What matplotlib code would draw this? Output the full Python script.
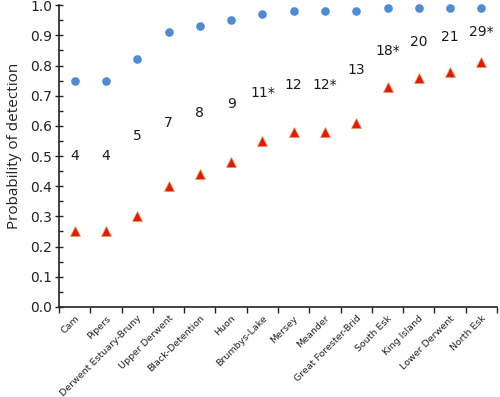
import matplotlib
matplotlib.use("Agg")
import matplotlib.pyplot as plt
import numpy as np
from matplotlib.ticker import MultipleLocator, FixedLocator, NullFormatter

categories = ["Cam", "Pipers", "Derwent Estuary-Bruny", "Upper Derwent",
              "Black-Detention", "Huon", "Brumbys-Lake", "Mersey", "Meander",
              "Great Forester-Brid", "South Esk", "King Island",
              "Lower Derwent", "North Esk"]
circle_vals = [0.75, 0.75, 0.82, 0.91, 0.93, 0.95, 0.97, 0.98, 0.98, 0.98,
               0.99, 0.99, 0.99, 0.99]
triangle_vals = [0.25, 0.25, 0.30, 0.40, 0.44, 0.48, 0.55, 0.58, 0.58, 0.61,
                 0.73, 0.76, 0.78, 0.81]
count_labels = ["4", "4", "5", "7", "8", "9", "11*", "12", "12*", "13",
                "18*", "20", "21", "29*"]
count_label_y = [0.50, 0.50, 0.565, 0.61, 0.643, 0.674, 0.708, 0.737, 0.737,
                 0.785, 0.848, 0.878, 0.895, 0.912]

plt.rcParams['font.family'] = ['DejaVu Sans']
fig = plt.figure(figsize=(5.0, 3.97), dpi=100)
ax = fig.add_axes([0.118, 0.227, 0.876, 0.760])

x = np.arange(len(categories))
ax.plot(x, circle_vals, 'o', color='#4F8BD0', markersize=6.2, markeredgewidth=0,
        zorder=3, clip_on=False)
ax.plot(x, triangle_vals, '^', color='#E8170E', markersize=6.5,
        markeredgecolor='#E0A050', markeredgewidth=0.5, zorder=3, clip_on=False)
for xi, lab, yy in zip(x, count_labels, count_label_y):
    ax.text(xi, yy, lab, ha='center', va='center', fontsize=10, color='#1a1a1a')

ax.set_xlim(-0.5, len(categories) - 0.5)
ax.set_ylim(0, 1.0)
ax.yaxis.set_major_locator(MultipleLocator(0.1))
ax.yaxis.set_minor_locator(MultipleLocator(0.05))
ax.yaxis.set_major_formatter(matplotlib.ticker.FormatStrFormatter('%.1f'))
ax.tick_params(axis='y', which='major', direction='inout', length=6, width=1,
               labelsize=10, colors='#222222', pad=2)
ax.tick_params(axis='y', which='minor', direction='in', length=3, width=1,
               colors='#222222')

ax.xaxis.set_major_locator(FixedLocator(np.arange(-0.5, len(categories), 1.0)))
ax.xaxis.set_major_formatter(NullFormatter())
ax.xaxis.set_minor_locator(FixedLocator(x))
ax.set_xticks(x, minor=True)
ax.set_xticklabels(categories, minor=True, rotation=45, ha='right',
                   rotation_mode='anchor', fontsize=6.8)
ax.tick_params(axis='x', which='major', direction='out', length=4, width=1,
               colors='#222222')
ax.tick_params(axis='x', which='minor', length=0, pad=5, labelcolor='#222222')

for s in ['top', 'right']:
    ax.spines[s].set_visible(False)
for s in ['left', 'bottom']:
    ax.spines[s].set_color('#222222')
    ax.spines[s].set_linewidth(1.2)

ax.set_ylabel('Probability of detection', fontsize=11, color='#222222',
              family=['Open Sans', 'DejaVu Sans'])
ax.yaxis.set_label_coords(-0.085, 0.535)

fig.savefig('out.png', dpi=100)
